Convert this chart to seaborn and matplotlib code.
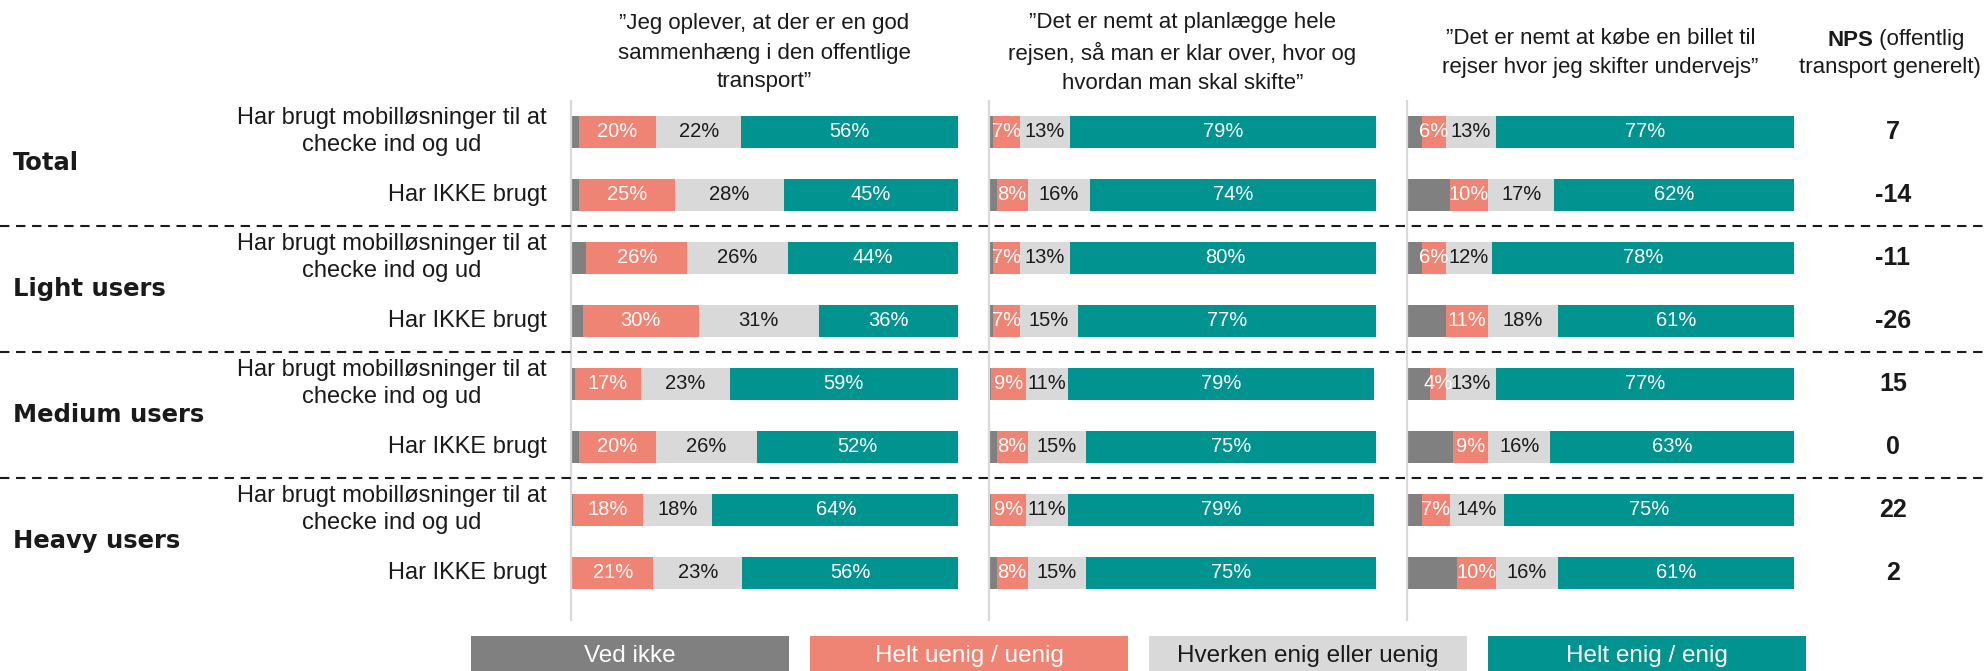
import numpy as np
import pandas as pd
import matplotlib
matplotlib.use("Agg")
import matplotlib.pyplot as plt
import seaborn as sns
from matplotlib.lines import Line2D
from matplotlib.patches import Rectangle
from matplotlib.transforms import blended_transform_factory

# ---- data -------------------------------------------------------------
groups = ["Total", "Light users", "Medium users", "Heavy users"]
usage = ["Har brugt mobilløsninger til at\nchecke ind og ud", "Har IKKE brugt"]

statements = [
    "”Jeg oplever, at der er en god\nsammenhæng i den offentlige\ntransport”",
    "”Det er nemt at planlægge hele\nrejsen, så man er klar over, hvor og\nhvordan man skal skifte”",
    "”Det er nemt at købe en billet til\nrejser hvor jeg skifter undervejs”",
]

responses = ["Ved ikke", "Helt uenig / uenig", "Hverken enig eller uenig", "Helt enig / enig"]

# rows: Total (brugt, ikke), Light (...), Medium (...), Heavy (...)
s1_ved_ikke = [2, 2, 4, 3, 1, 2, 0.5, 0.3]
s1_uenig    = [20, 25, 26, 30, 17, 20, 18, 21]
s1_hverken  = [22, 28, 26, 31, 23, 26, 18, 23]
s1_enig     = [56, 45, 44, 36, 59, 52, 64, 56]

s2_ved_ikke = [1, 2, 1, 1, 0.5, 2, 0.5, 2]
s2_uenig    = [7, 8, 7, 7, 9, 8, 9, 8]
s2_hverken  = [13, 16, 13, 15, 11, 15, 11, 15]
s2_enig     = [79, 74, 80, 77, 79, 75, 79, 75]

s3_ved_ikke = [4, 11, 4, 10, 6, 12, 4, 13]
s3_uenig    = [6, 10, 6, 11, 4, 9, 7, 10]
s3_hverken  = [13, 17, 12, 18, 13, 16, 14, 16]
s3_enig     = [77, 62, 78, 61, 77, 63, 75, 61]

nps = [7, -14, -11, -26, 15, 0, 22, 2]

# ---- style ------------------------------------------------------------
colors = ["#808080", "#F08474", "#D9D9D9", "#00938F"]
label_colors = [None, "white", "#1a1a1a", "white"]
ink = "#1a1a1a"

sns.set_theme(style="white")
plt.rcParams["font.family"] = ["Liberation Sans", "DejaVu Sans"]

W, H, DPI = 1984, 671, 100
fig = plt.figure(figsize=(W / DPI, H / DPI), dpi=DPI)

row_ids = [f"r{i}" for i in range(len(groups) * len(usage))]
row_labels = usage * len(groups)

panel_data = [
    [s1_ved_ikke, s1_uenig, s1_hverken, s1_enig],
    [s2_ved_ikke, s2_uenig, s2_hverken, s2_enig],
    [s3_ved_ikke, s3_uenig, s3_hverken, s3_enig],
]

panel_left_px = [571, 989, 1407]
panel_w_px = 387
top_px, bot_px = 101, 620

axes = []
for p, series in enumerate(panel_data):
    ax = fig.add_axes([panel_left_px[p] / W, (H - bot_px) / H,
                       panel_w_px / W, (bot_px - top_px) / H])
    axes.append(ax)
    vals = np.array(series, dtype=float)           # (4, 8)
    cum = np.cumsum(vals, axis=0)
    starts = cum - vals
    # draw stacked layers back to front so each shorter layer sits on top
    for k in range(len(responses) - 1, -1, -1):
        df = pd.DataFrame({"row": row_ids, "value": cum[k]})
        sns.barplot(data=df, x="value", y="row", order=row_ids, orient="h",
                    color=colors[k], saturation=1, width=0.5, linewidth=0,
                    ax=ax)
    # value labels
    for k in range(1, len(responses)):
        for i in range(len(row_ids)):
            ax.text(starts[k, i] + vals[k, i] / 2, i, f"{vals[k, i]:.0f}%",
                    ha="center", va="center", fontsize=14.5,
                    color=label_colors[k])
    ax.set_xlim(0, 100)
    ax.set_ylim(7.75, -0.49)
    ax.set_xlabel("")
    ax.set_ylabel("")
    ax.set_xticks([])
    ax.set_yticks([])
    for side in ["top", "right", "bottom"]:
        ax.spines[side].set_visible(False)
    ax.spines["left"].set_color("#D9D9D9")
    ax.spines["left"].set_linewidth(1.6)
    ax.set_facecolor("none")

    # statement header
    fig.text((panel_left_px[p] + panel_w_px / 2) / W, 1 - 53 / H, statements[p],
             ha="center", va="center", fontsize=16, linespacing=1.5,
             color=ink)

ax0 = axes[0]
tr_rows = blended_transform_factory(fig.transFigure, ax0.transData)

# row labels
for i, lab in enumerate(row_labels):
    fig.text(547 / W, i, lab, transform=tr_rows, ha="right", va="center",
             multialignment="center", fontsize=17, color=ink,
             linespacing=1.3)

# group labels
for g, name in enumerate(groups):
    fig.text(13 / W, 2 * g + 0.5, name, transform=tr_rows, ha="left",
             va="center", fontsize=17.5, fontweight="bold", color=ink,
             family=["DejaVu Sans"])

# NPS column
for i, v in enumerate(nps):
    fig.text(1893 / W, i, f"{v}", transform=tr_rows, ha="center", va="center",
             fontsize=18, fontweight="bold", color=ink,
             family=["Liberation Sans Narrow", "Liberation Sans"])

fig.text(1873 / W, 1 - 40 / H, "NPS", ha="right", va="center", fontsize=16,
         fontweight="bold", color=ink)
fig.text(1873 / W, 1 - 40 / H, " (offentlig", ha="left", va="center",
         fontsize=16, color=ink)
fig.text(1890 / W, 1 - 67 / H, "transport generelt)", ha="center", va="center",
         fontsize=16, color=ink)

# dashed group separators across the full width
for y in [1.5, 3.5, 5.5]:
    fig.add_artist(Line2D([0, 1], [y, y], transform=tr_rows, color=ink,
                          linewidth=1.5, linestyle=(0, (4.5, 3.2))))

# legend boxes
legend_x = [471, 810, 1149, 1488]
legend_w = 318
legend_text_colors = ["white", "white", ink, "white"]
for k, name in enumerate(responses):
    fig.add_artist(Rectangle((legend_x[k] / W, 0), legend_w / W, 35 / H,
                             transform=fig.transFigure, facecolor=colors[k],
                             edgecolor="none"))
    fig.text((legend_x[k] + legend_w / 2) / W, 1 - 656 / H, name,
             ha="center", va="center", fontsize=17.5,
             color=legend_text_colors[k])

fig.savefig("out.png", dpi=DPI)
